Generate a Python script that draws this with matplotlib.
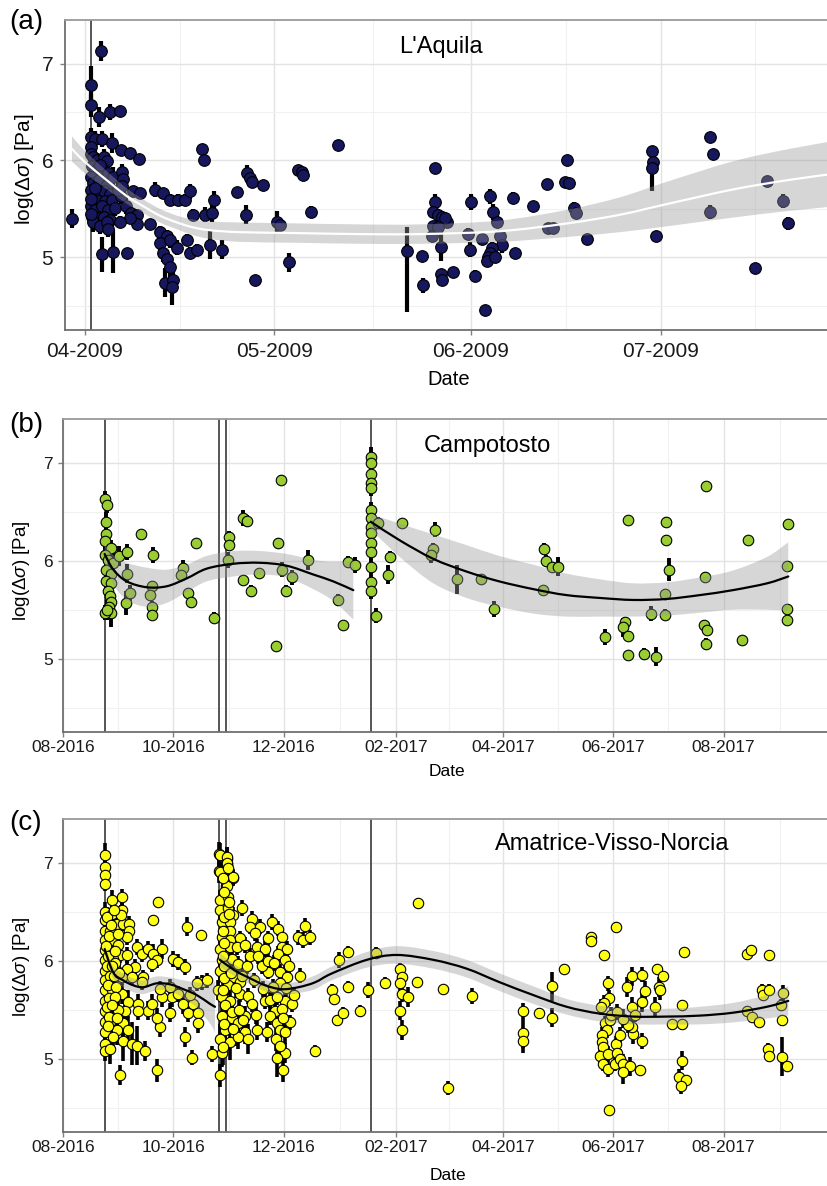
import numpy as np
import matplotlib
matplotlib.use("Agg")
import matplotlib.pyplot as plt
import matplotlib.dates as mdates
from matplotlib.path import Path
from matplotlib.patches import PathPatch
from matplotlib.ticker import FixedLocator
from datetime import datetime

plt.rcParams["font.family"] = ["Liberation Sans", "DejaVu Sans"]
plt.rcParams["mathtext.fontset"] = "custom"
plt.rcParams["mathtext.rm"] = "Liberation Sans"
plt.rcParams["mathtext.it"] = "Liberation Sans:italic"

W, H = 827, 1186

# ---------------------------------------------------------------------------
# L'Aquila 2009: (days after mainshock, log stress drop, error[, upper error])
aquila_mainshock = datetime(2009, 4, 6)
aquila_events = [
    (-3.0, 5.40, 0.10),
    (0.0, 6.78, 0.20), (0.0, 6.57, 0.12), (1.6, 7.13, 0.10), (1.3, 6.45, 0.10),
    (3.0, 6.50, 0.08), (4.6, 6.51, 0.05), (0.0, 6.24, 0.10), (0.6, 6.22, 0.08),
    (1.7, 6.22, 0.08), (3.3, 6.18, 0.10), (4.8, 6.11, 0.05), (6.2, 6.08, 0.05),
    (7.6, 6.02, 0.05),
    (0.0, 6.14, 0.08), (0.0, 6.07, 0.08), (0.4, 6.04, 0.08), (0.9, 6.00, 0.08),
    (2.0, 6.04, 0.08), (2.5, 5.99, 0.08), (0.1, 5.94, 0.08), (0.6, 5.89, 0.08),
    (1.7, 5.92, 0.08), (2.7, 5.87, 0.08), (0.0, 5.83, 0.10), (0.4, 5.77, 0.08),
    (1.2, 5.80, 0.08), (2.5, 5.75, 0.08), (3.5, 5.83, 0.10), (0.0, 5.70, 0.08),
    (0.9, 5.66, 0.08), (2.0, 5.68, 0.08), (3.0, 5.65, 0.08), (0.1, 5.59, 0.08),
    (1.2, 5.58, 0.08), (2.2, 5.58, 0.08), (3.3, 5.59, 0.08), (0.0, 5.53, 0.10),
    (0.6, 5.49, 0.08), (1.7, 5.53, 0.08), (2.7, 5.49, 0.08), (3.8, 5.51, 0.08),
    (0.1, 5.42, 0.10), (0.9, 5.41, 0.08), (2.0, 5.42, 0.08), (3.0, 5.39, 0.08),
    (0.4, 5.36, 0.10), (1.4, 5.32, 0.08), (2.5, 5.37, 0.08), (4.8, 5.63, 0.08),
    (4.3, 5.70, 0.08), (5.6, 5.53, 0.08), (6.4, 5.46, 0.06), (7.2, 5.44, 0.06),
    (2.7, 5.29, 0.08), (0.0, 5.60, 0.08), (0.0, 5.45, 0.10), (0.6, 5.72, 0.08),
    (1.4, 5.95, 0.08),
    (17.5, 6.12, 0.05), (17.9, 6.00, 0.05), (4.9, 5.88, 0.08), (5.1, 5.81, 0.08),
    (4.9, 5.74, 0.08), (6.6, 5.68, 0.06), (7.7, 5.66, 0.06), (10.1, 5.70, 0.08),
    (11.4, 5.66, 0.06), (12.5, 5.59, 0.06), (13.7, 5.59, 0.06), (14.8, 5.59, 0.06),
    (15.6, 5.68, 0.08), (19.4, 5.59, 0.10), (23.1, 5.67, 0.05), (16.1, 5.44, 0.06),
    (18.0, 5.44, 0.08), (19.1, 5.46, 0.10), (7.3, 5.34, 0.06), (9.3, 5.34, 0.06),
    (6.2, 5.41, 0.06), (4.6, 5.37, 0.06), (10.9, 5.26, 0.06), (12.0, 5.22, 0.06),
    (10.9, 5.15, 0.08), (12.5, 5.18, 0.08), (13.6, 5.10, 0.08), (15.2, 5.18, 0.06),
    (15.6, 5.05, 0.06), (16.7, 5.08, 0.06), (18.8, 5.13, 0.15), (20.7, 5.08, 0.10),
    (11.4, 5.05, 0.10), (12.0, 4.98, 0.10), (12.5, 4.90, 0.10), (11.7, 4.74, 0.15),
    (13.0, 4.77, 0.10), (12.8, 4.69, 0.18), (1.7, 5.03, 0.18), (3.5, 5.06, 0.22),
    (5.7, 5.05, 0.05), (24.6, 5.87, 0.08), (25.1, 5.82, 0.06), (25.4, 5.78, 0.06),
    (27.2, 5.75, 0.04), (24.5, 5.44, 0.10), (25.9, 4.77, 0.03), (29.4, 5.36, 0.12),
    (29.9, 5.33, 0.05), (31.3, 4.95, 0.10), (32.7, 5.90, 0.05), (33.3, 5.88, 0.05),
    (33.5, 5.85, 0.05), (34.8, 5.47, 0.06), (39.0, 6.16, 0.05),
    (49.9, 5.07, 0.63, 0.24),
    (52.3, 5.01, 0.05), (52.4, 4.71, 0.08), (54.3, 5.92, 0.04), (54.3, 5.57, 0.08),
    (54.0, 5.47, 0.06), (54.8, 5.44, 0.06), (55.5, 5.42, 0.06), (56.2, 5.37, 0.05),
    (55.9, 5.41, 0.05), (54.0, 5.32, 0.05), (53.9, 5.22, 0.05), (54.8, 5.31, 0.05),
    (55.3, 5.11, 0.15), (55.3, 4.83, 0.05), (55.5, 4.77, 0.05), (57.2, 4.85, 0.05),
    (59.6, 5.24, 0.06), (60.0, 5.57, 0.08), (59.9, 5.08, 0.08), (60.7, 4.81, 0.06),
    (61.8, 5.19, 0.05), (62.2, 4.46, 0.03), (63.0, 5.63, 0.08), (63.5, 5.47, 0.08),
    (64.1, 5.37, 0.06), (64.6, 5.22, 0.06), (64.9, 5.13, 0.08), (63.3, 5.10, 0.06),
    (63.0, 5.05, 0.06), (62.7, 5.00, 0.06), (62.6, 4.96, 0.05), (63.8, 5.00, 0.05),
    (66.7, 5.61, 0.06), (67.0, 5.04, 0.03), (69.8, 5.53, 0.04), (72.0, 5.76, 0.05),
    (72.2, 5.30, 0.05), (73.0, 5.30, 0.04), (75.2, 6.01, 0.04), (74.9, 5.78, 0.04),
    (75.5, 5.77, 0.04), (76.3, 5.51, 0.06), (76.6, 5.46, 0.06), (78.4, 5.19, 0.03),
    (88.6, 6.10, 0.05), (88.8, 5.98, 0.06), (88.6, 5.92, 0.24, 0.05), (89.3, 5.22, 0.04),
    (97.8, 6.24, 0.04), (98.3, 6.07, 0.04), (97.8, 5.47, 0.07), (104.9, 4.89, 0.03),
    (106.8, 5.79, 0.03), (109.3, 5.58, 0.07), (110.1, 5.35, 0.07),
]
# smooth trend: knot days, fitted value, confidence half-width
aquila_fit_days = [-3.0, -1.7, 0.0, 3.0, 5.7, 8.2, 10.9, 13.6, 16.1, 18.8, 23.5,
                   33.0, 42.5, 52.0, 64.6, 75.2, 83.6, 91.0, 101.4, 110.4, 118.3]
aquila_fit_val = [6.12, 6.03, 5.93, 5.77, 5.63, 5.53, 5.43, 5.36, 5.31, 5.28, 5.26,
                  5.25, 5.24, 5.24, 5.27, 5.35, 5.44, 5.55, 5.70, 5.80, 5.87]
aquila_fit_se = [0.13, 0.12, 0.11, 0.09, 0.08, 0.07, 0.07, 0.07, 0.08, 0.09, 0.10,
                 0.10, 0.10, 0.10, 0.11, 0.14, 0.18, 0.23, 0.29, 0.32, 0.34]

# ---------------------------------------------------------------------------
# Central Italy 2016-2017 sequence: days counted from 1 Aug 2016
seq_origin = datetime(2016, 8, 1)
seq_mainshocks = [datetime(2016, 8, 24), datetime(2016, 10, 26),
                  datetime(2016, 10, 30), datetime(2017, 1, 18)]

campotosto_events = [
    (23.0, 6.63, 0.08), (24.5, 6.57, 0.08), (23.9, 6.40, 0.10), (23.9, 6.27, 0.08),
    (23.0, 6.20, 0.08), (26.7, 6.13, 0.08), (23.0, 6.06, 0.08), (24.9, 6.01, 0.08),
    (27.6, 5.98, 0.10), (23.9, 5.91, 0.08), (26.7, 5.87, 0.10), (23.9, 5.79, 0.08),
    (26.7, 5.77, 0.08), (24.9, 5.69, 0.08), (25.8, 5.64, 0.08), (26.3, 5.58, 0.10),
    (25.2, 5.53, 0.08), (26.7, 5.47, 0.15), (23.0, 5.47, 0.08), (24.5, 5.50, 0.10),
    (30.8, 6.05, 0.10), (35.5, 6.09, 0.08), (35.0, 5.57, 0.12), (36.8, 5.67, 0.08),
    (35.5, 5.87, 0.10), (42.9, 6.27, 0.04), (49.7, 6.06, 0.08), (49.3, 5.74, 0.05),
    (47.9, 5.65, 0.05), (49.3, 5.53, 0.06), (49.3, 5.45, 0.06), (66.3, 5.93, 0.08),
    (65.4, 5.86, 0.05), (69.1, 5.67, 0.05), (70.9, 5.58, 0.06), (73.6, 6.18, 0.04),
    (83.5, 5.42, 0.06), (91.8, 6.24, 0.06), (91.8, 6.16, 0.06), (91.2, 6.01, 0.08),
    (99.4, 6.44, 0.08), (101.7, 6.41, 0.06), (99.4, 5.80, 0.04), (103.9, 5.69, 0.06),
    (108.3, 5.88, 0.05), (120.4, 6.83, 0.05), (118.8, 6.18, 0.05), (117.7, 5.13, 0.05),
    (120.8, 5.91, 0.08), (123.2, 5.69, 0.06), (126.3, 5.83, 0.08), (135.4, 6.01, 0.10),
    (151.8, 5.60, 0.06), (154.5, 5.34, 0.04), (157.6, 5.99, 0.06), (161.3, 5.96, 0.08),
    (170.0, 7.06, 0.10), (170.0, 7.00, 0.08), (170.0, 6.89, 0.08), (170.0, 6.80, 0.08),
    (170.0, 6.74, 0.08), (170.0, 6.52, 0.08), (170.0, 6.44, 0.08), (170.0, 6.35, 0.08),
    (170.0, 6.28, 0.08), (170.0, 6.18, 0.08), (170.0, 6.09, 0.08), (170.0, 5.94, 0.08),
    (170.0, 5.78, 0.08), (170.0, 5.69, 0.08), (172.9, 5.44, 0.08), (174.0, 6.39, 0.06),
    (179.6, 5.86, 0.10), (180.7, 6.04, 0.06), (187.1, 6.39, 0.03),
    (205.5, 6.32, 0.08), (204.6, 6.12, 0.06), (203.1, 6.06, 0.08), (217.8, 5.81, 0.15),
    (231.0, 5.81, 0.03), (238.3, 5.51, 0.08), (265.7, 6.12, 0.06), (266.9, 6.00, 0.06),
    (270.0, 5.94, 0.05), (273.7, 5.94, 0.10), (265.0, 5.70, 0.04), (299.4, 5.22, 0.08),
    (312.3, 6.42, 0.03), (310.5, 5.37, 0.06), (309.6, 5.32, 0.10), (312.3, 5.23, 0.05),
    (312.3, 5.04, 0.03), (321.0, 5.05, 0.06), (327.4, 5.02, 0.10), (324.7, 5.46, 0.08),
    (333.0, 6.40, 0.05), (333.0, 6.21, 0.05), (335.0, 5.91, 0.12), (332.6, 5.66, 0.05),
    (332.6, 5.45, 0.06), (355.2, 6.77, 0.04), (354.7, 5.83, 0.06), (354.1, 5.34, 0.06),
    (355.6, 5.29, 0.05), (355.2, 5.15, 0.06), (378.6, 6.21, 0.04), (375.3, 5.19, 0.03),
    (400.4, 6.38, 0.03), (400.2, 5.95, 0.05), (400.2, 5.51, 0.05), (399.8, 5.39, 0.05),
]
campotosto_fit1_days = [23.0, 27.8, 35.2, 46.2, 57.3, 68.3, 79.4, 94.1, 108.8, 123.6,
                        138.3, 149.3, 160.4]
campotosto_fit1_val = [6.07, 5.91, 5.79, 5.73, 5.74, 5.82, 5.92, 5.97, 5.98, 5.95,
                       5.86, 5.79, 5.70]
campotosto_fit1_se = [0.10, 0.15, 0.19, 0.20, 0.17, 0.14, 0.13, 0.13, 0.12, 0.12,
                      0.15, 0.20, 0.30]
campotosto_fit2_days = [170.0, 186.0, 204.6, 223.0, 241.0, 260.0, 278.0, 297.0, 315.0,
                        333.5, 352.0, 370.0, 389.0, 400.7]
campotosto_fit2_val = [6.40, 6.21, 6.02, 5.89, 5.79, 5.71, 5.65, 5.62, 5.60, 5.61,
                       5.65, 5.70, 5.77, 5.84]
campotosto_fit2_se = [0.08, 0.17, 0.25, 0.27, 0.26, 0.25, 0.22, 0.19, 0.17, 0.17,
                      0.18, 0.20, 0.27, 0.35]

avn_events = [
    # Amatrice aftershocks
    (23.0, 7.08, 0.12), (23.0, 6.96, 0.10), (23.0, 6.88, 0.08), (23.0, 6.79, 0.08),
    (23.0, 6.50, 0.10), (23.0, 6.42, 0.10), (23.0, 6.31, 0.10), (23.0, 6.21, 0.10),
    (23.0, 6.11, 0.10), (23.0, 6.01, 0.10), (23.0, 5.90, 0.10), (23.0, 5.80, 0.10),
    (23.0, 5.70, 0.10), (23.0, 5.59, 0.10), (23.0, 5.49, 0.10), (23.0, 5.37, 0.10),
    (23.0, 5.27, 0.10), (23.0, 5.15, 0.10), (23.0, 5.08, 0.10),
    (26.9, 6.62, 0.10), (32.8, 6.65, 0.08), (32.8, 6.52, 0.08), (26.9, 6.48, 0.10),
    (29.7, 6.38, 0.08), (26.0, 6.31, 0.08), (33.3, 6.38, 0.08), (36.6, 6.38, 0.08),
    (36.6, 6.30, 0.08), (27.8, 6.21, 0.08), (30.6, 6.16, 0.08), (35.2, 6.24, 0.08),
    (31.5, 6.06, 0.08), (27.8, 6.02, 0.08), (40.7, 6.14, 0.08), (43.5, 6.07, 0.08),
    (47.1, 6.12, 0.08), (49.9, 6.07, 0.10), (54.5, 6.12, 0.10), (51.8, 6.01, 0.08),
    (35.5, 6.06, 0.08), (39.8, 5.94, 0.08), (35.2, 5.92, 0.08), (32.4, 5.83, 0.08),
    (29.7, 5.90, 0.08), (37.9, 5.83, 0.08), (44.4, 5.83, 0.08), (49.0, 5.97, 0.08),
    (60.6, 6.02, 0.08), (63.7, 5.99, 0.08), (67.4, 5.94, 0.08), (68.3, 6.35, 0.10),
    (76.2, 6.26, 0.05), (52.3, 6.60, 0.05), (49.9, 6.42, 0.05), (26.9, 5.70, 0.10),
    (32.4, 5.66, 0.10), (36.1, 5.58, 0.12), (41.6, 5.56, 0.10), (47.1, 5.49, 0.10),
    (49.0, 5.56, 0.10), (34.3, 5.49, 0.12), (26.0, 5.37, 0.12), (33.3, 5.36, 0.15),
    (29.7, 5.29, 0.15), (36.1, 5.29, 0.15), (27.8, 5.22, 0.15), (33.3, 5.18, 0.20),
    (37.9, 5.15, 0.22), (26.0, 5.10, 0.15), (40.7, 5.13, 0.20), (45.3, 5.08, 0.10),
    (41.6, 5.49, 0.10), (53.6, 5.32, 0.10), (51.8, 5.42, 0.10), (59.1, 5.47, 0.10),
    (60.0, 5.63, 0.10), (54.5, 5.63, 0.10), (66.5, 5.56, 0.10), (69.2, 5.47, 0.10),
    (72.0, 5.56, 0.10), (74.7, 5.47, 0.10), (74.7, 5.36, 0.10), (67.4, 5.22, 0.10),
    (71.1, 5.01, 0.08), (82.1, 5.05, 0.08), (31.5, 4.83, 0.10), (51.8, 4.88, 0.12),
    (76.6, 5.78, 0.08), (79.4, 5.80, 0.08), (73.8, 5.77, 0.08), (63.7, 5.66, 0.08),
    (53.6, 5.71, 0.08), (43.5, 5.78, 0.08), (59.1, 5.73, 0.08), (70.2, 5.65, 0.08),
    (24.5, 6.45, 0.10), (25.5, 6.25, 0.10), (24.0, 6.15, 0.10), (25.0, 6.05, 0.10),
    (24.2, 5.95, 0.10), (25.8, 5.85, 0.10), (24.6, 5.75, 0.10), (25.3, 5.62, 0.10),
    (24.1, 5.53, 0.12), (25.6, 5.43, 0.12), (24.8, 5.33, 0.12), (28.5, 6.10, 0.10),
    (29.0, 5.98, 0.10), (28.2, 5.84, 0.10), (29.4, 5.73, 0.10), (28.8, 5.63, 0.10),
    (30.5, 5.50, 0.12), (29.6, 5.42, 0.12), (31.0, 5.88, 0.10), (30.2, 6.27, 0.10),
    (31.8, 6.47, 0.10), (27.0, 5.95, 0.10), (27.3, 5.55, 0.12), (26.4, 6.37, 0.10),
    (28.0, 6.52, 0.10),
    # Visso / Norcia aftershocks
    (86.4, 7.09, 0.12), (90.4, 7.04, 0.12), (86.4, 6.92, 0.12), (90.4, 6.99, 0.10),
    (90.1, 6.76, 0.10), (94.1, 6.85, 0.08),
    (86.7, 7.08, 0.12), (90.4, 7.06, 0.10), (90.4, 7.00, 0.10), (86.7, 6.91, 0.10),
    (94.1, 6.86, 0.08), (90.4, 6.77, 0.08), (86.7, 6.62, 0.10), (91.3, 6.65, 0.10),
    (86.7, 6.52, 0.10), (91.3, 6.54, 0.10), (98.7, 6.54, 0.08), (94.1, 6.47, 0.08),
    (87.7, 6.40, 0.10), (92.3, 6.40, 0.10), (92.3, 6.31, 0.10), (104.2, 6.43, 0.08),
    (87.7, 6.24, 0.10), (92.3, 6.21, 0.10), (97.8, 6.23, 0.08), (103.3, 6.35, 0.08),
    (108.8, 6.35, 0.08), (106.1, 6.28, 0.08), (115.3, 6.40, 0.08), (119.0, 6.33, 0.08),
    (113.4, 6.23, 0.08), (120.8, 6.24, 0.08), (86.7, 6.12, 0.10), (92.3, 6.14, 0.10),
    (96.0, 6.14, 0.08), (100.6, 6.16, 0.08), (107.0, 6.14, 0.08), (111.6, 6.12, 0.08),
    (120.8, 6.14, 0.08), (123.6, 6.12, 0.08), (119.0, 6.07, 0.08), (122.7, 6.01, 0.08),
    (87.7, 6.01, 0.10), (93.2, 6.02, 0.10), (96.9, 5.97, 0.08), (101.5, 5.95, 0.08),
    (86.7, 5.90, 0.10), (94.1, 5.83, 0.10), (97.8, 5.78, 0.08), (91.3, 5.75, 0.10),
    (85.8, 5.70, 0.10), (97.8, 5.66, 0.08), (102.4, 5.64, 0.08), (87.7, 5.63, 0.10),
    (92.3, 5.59, 0.10), (104.2, 5.56, 0.08), (113.4, 5.89, 0.08), (119.9, 5.89, 0.08),
    (123.6, 5.83, 0.08), (130.9, 5.85, 0.08), (119.9, 5.77, 0.08), (116.2, 5.73, 0.08),
    (110.7, 5.71, 0.08), (111.6, 5.59, 0.08), (122.7, 5.59, 0.08), (126.3, 5.56, 0.08),
    (117.1, 5.49, 0.10), (120.8, 5.51, 0.10), (125.4, 5.37, 0.08), (114.4, 5.44, 0.10),
    (118.1, 5.36, 0.10), (119.9, 5.29, 0.12), (122.7, 5.27, 0.12), (87.7, 5.44, 0.12),
    (93.2, 5.42, 0.12), (100.6, 5.44, 0.10), (96.9, 5.36, 0.12), (89.5, 5.29, 0.15),
    (95.0, 5.25, 0.12), (100.6, 5.27, 0.12), (107.0, 5.29, 0.10), (112.5, 5.27, 0.10),
    (86.7, 5.20, 0.15), (92.3, 5.17, 0.18), (96.9, 5.22, 0.12), (87.7, 5.06, 0.15),
    (122.7, 5.06, 0.10), (118.1, 5.01, 0.20), (121.7, 4.88, 0.12), (86.7, 4.83, 0.12),
    (130.0, 6.24, 0.08), (133.7, 6.36, 0.08), (132.8, 6.21, 0.08), (136.5, 6.24, 0.08),
    (88.5, 6.85, 0.10), (88.8, 6.70, 0.10), (89.0, 6.45, 0.10), (88.6, 6.30, 0.10),
    (89.2, 6.18, 0.10), (88.4, 6.05, 0.10), (89.0, 5.95, 0.10), (88.7, 5.82, 0.10),
    (88.5, 5.70, 0.10), (89.3, 5.55, 0.12), (88.9, 5.35, 0.15), (88.6, 5.12, 0.18),
    (91.0, 6.95, 0.10), (91.6, 6.60, 0.10), (91.9, 6.48, 0.10), (92.8, 5.88, 0.10),
    (93.5, 5.48, 0.12), (94.0, 5.30, 0.15), (95.5, 5.72, 0.10), (97.0, 5.50, 0.10),
    (99.0, 5.85, 0.10), (99.5, 5.40, 0.12), (102.0, 5.20, 0.15), (103.5, 6.05, 0.08),
    (105.5, 5.80, 0.08), (106.5, 5.45, 0.10), (108.0, 6.05, 0.08), (110.0, 5.95, 0.08),
    (113.0, 6.00, 0.08), (114.5, 5.60, 0.08), (116.5, 5.98, 0.08), (118.5, 5.63, 0.08),
    (121.5, 5.42, 0.10), (117.5, 5.20, 0.12), (120.0, 5.13, 0.10), (123.0, 5.72, 0.08),
    (125.0, 5.95, 0.08), (127.5, 5.65, 0.08),
    # winter 2016-2017
    (139.2, 5.08, 0.06), (148.4, 5.70, 0.06), (149.9, 5.61, 0.06), (151.2, 5.39, 0.06),
    (152.5, 6.01, 0.08), (154.9, 5.47, 0.06), (157.6, 6.09, 0.06), (157.6, 5.73, 0.06),
    (164.1, 5.49, 0.06), (168.7, 5.70, 0.08), (172.9, 6.08, 0.06), (177.9, 5.77, 0.06),
    (186.2, 5.92, 0.06), (187.1, 5.83, 0.06), (186.2, 5.77, 0.08), (187.1, 5.66, 0.08),
    (186.2, 5.49, 0.10), (187.1, 5.29, 0.10), (190.8, 5.63, 0.10), (195.4, 5.78, 0.05),
    (196.3, 6.59, 0.05), (209.8, 5.71, 0.03), (212.9, 4.70, 0.07), (225.8, 5.64, 0.08),
    (254.0, 5.49, 0.08), (254.0, 5.26, 0.15), (254.0, 5.18, 0.12), (263.2, 5.47, 0.05),
    (270.3, 5.74, 0.15), (270.3, 5.42, 0.10), (276.8, 5.92, 0.05), (291.5, 6.24, 0.03),
    (291.5, 6.20, 0.03), (298.9, 6.06, 0.03), (305.5, 6.35, 0.05), (301.8, 4.48, 0.03),
    # spring-summer 2017
    (301.3, 5.77, 0.08), (301.8, 5.62, 0.08), (298.9, 5.57, 0.08), (297.1, 5.53, 0.08),
    (299.4, 5.36, 0.08), (300.4, 5.29, 0.08), (297.6, 5.24, 0.08), (302.2, 5.39, 0.08),
    (297.6, 5.17, 0.08), (298.5, 5.12, 0.08), (296.7, 5.03, 0.08), (301.3, 5.05, 0.08),
    (298.5, 4.95, 0.08), (301.3, 4.89, 0.08), (305.5, 5.15, 0.08), (305.9, 5.06, 0.08),
    (304.9, 4.95, 0.08), (307.7, 5.00, 0.10), (309.6, 4.95, 0.10), (313.3, 4.92, 0.10),
    (309.6, 4.86, 0.12), (318.8, 4.88, 0.05), (319.7, 5.18, 0.08), (315.1, 5.25, 0.10),
    (314.2, 5.32, 0.10), (312.3, 5.34, 0.08), (307.7, 5.24, 0.08), (309.6, 5.41, 0.10),
    (311.8, 5.73, 0.10), (314.2, 5.84, 0.10), (319.7, 5.86, 0.08), (321.5, 5.69, 0.10),
    (319.7, 5.58, 0.10), (314.2, 5.53, 0.10), (327.1, 5.53, 0.10), (328.0, 5.92, 0.05),
    (331.7, 5.84, 0.05), (329.5, 5.73, 0.10), (329.8, 5.70, 0.10), (336.3, 5.35, 0.06),
    (341.8, 5.35, 0.06), (341.8, 5.55, 0.05), (341.8, 4.98, 0.10), (340.5, 4.81, 0.08),
    (344.2, 4.78, 0.05), (341.4, 4.72, 0.08), (303.0, 5.45, 0.08), (306.0, 5.48, 0.08),
    (316.0, 5.45, 0.08), (343.3, 6.09, 0.03), (378.1, 6.07, 0.05), (380.0, 6.11, 0.04),
    (390.2, 6.06, 0.03), (386.0, 5.70, 0.06), (387.0, 5.65, 0.06), (390.0, 5.70, 0.06),
    (378.0, 5.49, 0.05), (380.4, 5.43, 0.05), (384.7, 5.37, 0.04), (389.7, 5.10, 0.06),
    (390.2, 5.03, 0.06), (397.6, 5.67, 0.08), (396.7, 5.55, 0.06), (397.4, 5.39, 0.06),
    (397.1, 5.02, 0.20), (399.8, 4.92, 0.05),
]
avn_fit1_days = [23.0, 27.8, 33.3, 38.8, 44.4, 51.8, 59.1, 66.5, 73.9, 81.2, 84.0]
avn_fit1_val = [6.12, 5.88, 5.80, 5.75, 5.73, 5.77, 5.76, 5.71, 5.65, 5.56, 5.53]
avn_fit1_se = [0.05, 0.06, 0.07, 0.07, 0.07, 0.07, 0.07, 0.09, 0.13, 0.20, 0.26]
avn_fit2_days = [86.7, 95.0, 102.4, 111.6, 120.8, 130.0, 139.2, 148.4, 167.8, 184.4,
                 204.6, 223.0, 241.4, 259.8, 278.3, 296.7, 315.1, 333.5, 351.9, 370.3,
                 388.8, 400.7]
avn_fit2_val = [6.01, 5.90, 5.83, 5.75, 5.71, 5.73, 5.78, 5.87, 6.01, 6.06,
                6.01, 5.92, 5.78, 5.65, 5.53, 5.46, 5.43, 5.43, 5.44, 5.47,
                5.53, 5.59]
avn_fit2_se = [0.07, 0.06, 0.06, 0.06, 0.06, 0.06, 0.07, 0.07, 0.08, 0.09,
               0.09, 0.09, 0.09, 0.09, 0.08, 0.08, 0.08, 0.08, 0.09, 0.10,
               0.12, 0.15]

panel_titles = ["L'Aquila", "Campotosto", "Amatrice-Visso-Norcia"]
panel_tags = ["(a)", "(b)", "(c)"]
ylabel_text = r"log($\mathit{\Delta\sigma}$) [Pa]"

aquila_ticks = [datetime(2009, 4, 5), datetime(2009, 5, 5),
                datetime(2009, 6, 5), datetime(2009, 7, 5)]
seq_ticks = [datetime(2016, 8, 1), datetime(2016, 10, 1), datetime(2016, 12, 1),
             datetime(2017, 2, 1), datetime(2017, 4, 1), datetime(2017, 6, 1),
             datetime(2017, 8, 1)]


# ---------------------------------------------------------------------------
def smooth_path(x, y):
    """Cubic Bezier segments through the knots (Catmull-Rom tangents)."""
    pts = np.column_stack([x, y])
    n = len(pts)
    verts = [tuple(pts[0])]
    codes = [Path.MOVETO]
    for i in range(n - 1):
        p0 = pts[i - 1] if i > 0 else pts[i]
        p1, p2 = pts[i], pts[i + 1]
        p3 = pts[i + 2] if i + 2 < n else pts[i + 1]
        c1 = p1 + (p2 - p0) / 6.0
        c2 = p2 - (p3 - p1) / 6.0
        verts += [tuple(c1), tuple(c2), tuple(p2)]
        codes += [Path.CURVE4] * 3
    return verts, codes


def draw_trend(ax, x, val, se, line_color):
    x = np.asarray(x, float)
    val = np.asarray(val, float)
    se = np.asarray(se, float)
    vu, cu = smooth_path(x, val + se)
    vl, cl = smooth_path(x[::-1], (val - se)[::-1])
    cl[0] = Path.LINETO
    band = Path(vu + vl + [vu[0]], cu + cl + [Path.CLOSEPOLY])
    ax.add_patch(PathPatch(band, facecolor="#999999", edgecolor="none",
                           alpha=0.4, zorder=4))
    vm, cm = smooth_path(x, val)
    ax.add_patch(PathPatch(Path(vm, cm), facecolor="none", edgecolor=line_color,
                           lw=1.6, zorder=5, capstyle="round"))


def unpack(rows, origin):
    base = mdates.date2num(origin)
    x = np.array([base + r[0] for r in rows])
    y = np.array([r[1] for r in rows])
    lo = np.array([r[2] for r in rows])
    hi = np.array([r[3] if len(r) > 3 else r[2] for r in rows])
    return x, y, lo, hi


def style_axes(ax, major, minor, xlim, tick_fs, xpad, ypad):
    ax.set_xlim(*xlim)
    ax.set_ylim(4.25, 7.45)
    ax.xaxis.set_major_locator(FixedLocator(mdates.date2num(major)))
    ax.xaxis.set_minor_locator(FixedLocator(minor))
    ax.xaxis.set_major_formatter(mdates.DateFormatter("%m-%Y"))
    ax.yaxis.set_major_locator(FixedLocator([5, 6, 7]))
    ax.yaxis.set_minor_locator(FixedLocator([4.5, 5.5, 6.5]))
    ax.grid(True, which="major", color="#e3e3e3", lw=1.0)
    ax.grid(True, which="minor", color="#f1f1f1", lw=0.8)
    ax.set_axisbelow(True)
    for side in ("top", "left", "bottom"):
        ax.spines[side].set_color("#9a9a9a")
        ax.spines[side].set_linewidth(1.3)
    ax.spines["left"].set_color("#707070")
    ax.spines["bottom"].set_color("#707070")
    ax.spines["right"].set_visible(False)
    ax.tick_params(which="major", direction="out", length=3.5, width=1.0,
                   color="#808080", labelcolor="#1a1a1a", labelsize=tick_fs)
    ax.tick_params(which="minor", length=0)
    ax.tick_params(axis="x", pad=xpad)
    ax.tick_params(axis="y", pad=ypad)


def draw_events(ax, rows, origin, face, msize, bar_lw):
    x, y, lo, hi = unpack(rows, origin)
    ax.vlines(x, y - lo, y + hi, colors="black", lw=bar_lw, zorder=2)
    ax.plot(x, y, "o", ms=msize, mfc=face, mec="black", mew=0.8,
            ls="none", zorder=3)


fig = plt.figure(figsize=(W / 100, H / 100), dpi=100)


def px_rect(left, top, bottom):
    return [left / W, 1 - bottom / H, (W - left) / W, (bottom - top) / H]


# ---------------- (a) L'Aquila
ax_a = fig.add_axes(px_rect(65, 20, 330))
base_a = mdates.date2num(aquila_mainshock)
ax_a.axvline(base_a, color="#555555", lw=1.4, zorder=1)
draw_events(ax_a, aquila_events, aquila_mainshock, "#17175e", 8.4, 3.0)
draw_trend(ax_a, base_a + np.array(aquila_fit_days), aquila_fit_val,
           aquila_fit_se, "white")
maj_a = mdates.date2num(aquila_ticks)
minor_a = list((maj_a[:-1] + maj_a[1:]) / 2) + [maj_a[-1] + 15.0]
style_axes(ax_a, aquila_ticks, minor_a, (base_a - 4.1, base_a + 116.3),
           15, 5, 5)

# ---------------- (b) Campotosto and (c) Amatrice-Visso-Norcia
base_s = mdates.date2num(seq_origin)
maj_s = mdates.date2num(seq_ticks)
minor_s = list((maj_s[:-1] + maj_s[1:]) / 2) + [maj_s[-1] + 31.0]

ax_b = fig.add_axes(px_rect(63, 419, 732))
ax_c = fig.add_axes(px_rect(63, 819, 1132))
for ax in (ax_b, ax_c):
    for shock in seq_mainshocks:
        ax.axvline(mdates.date2num(shock), color="#555555", lw=1.4, zorder=1)

draw_events(ax_b, campotosto_events, seq_origin, "#9acd32", 7.6, 2.8)
draw_trend(ax_b, base_s + np.array(campotosto_fit1_days), campotosto_fit1_val,
           campotosto_fit1_se, "black")
draw_trend(ax_b, base_s + np.array(campotosto_fit2_days), campotosto_fit2_val,
           campotosto_fit2_se, "black")

draw_events(ax_c, avn_events, seq_origin, "#ffff14", 7.5, 2.6)
draw_trend(ax_c, base_s + np.array(avn_fit1_days), avn_fit1_val,
           avn_fit1_se, "black")
draw_trend(ax_c, base_s + np.array(avn_fit2_days), avn_fit2_val,
           avn_fit2_se, "black")

for ax in (ax_b, ax_c):
    style_axes(ax, seq_ticks, minor_s, (base_s, base_s + 422.1), 12.5, 2.5, 4)

# ---------------- text
def ftext(xp, yp, s, **kw):
    fig.text(xp / W, 1 - yp / H, s, **kw)


ftext(9, 22, panel_tags[0], fontsize=20, ha="left", va="center")
ftext(9, 425, panel_tags[1], fontsize=20, ha="left", va="center")
ftext(9, 823, panel_tags[2], fontsize=20, ha="left", va="center")

ftext(441, 47, panel_titles[0], fontsize=17, ha="center", va="center")
ftext(487, 446, panel_titles[1], fontsize=17, ha="center", va="center")
ftext(612, 844, panel_titles[2], fontsize=17, ha="center", va="center")

ftext(24, 169, ylabel_text, fontsize=15, rotation=90, ha="center", va="center")
ftext(22, 571, ylabel_text, fontsize=13.5, rotation=90, ha="center", va="center")
ftext(22, 967, ylabel_text, fontsize=13.5, rotation=90, ha="center", va="center")

ftext(449, 380, "Date", fontsize=14.5, ha="center", va="center")
ftext(447, 772, "Date", fontsize=12.5, ha="center", va="center")
ftext(448, 1176, "Date", fontsize=12.5, ha="center", va="center")

fig.savefig("out.png", dpi=100, facecolor="white")
